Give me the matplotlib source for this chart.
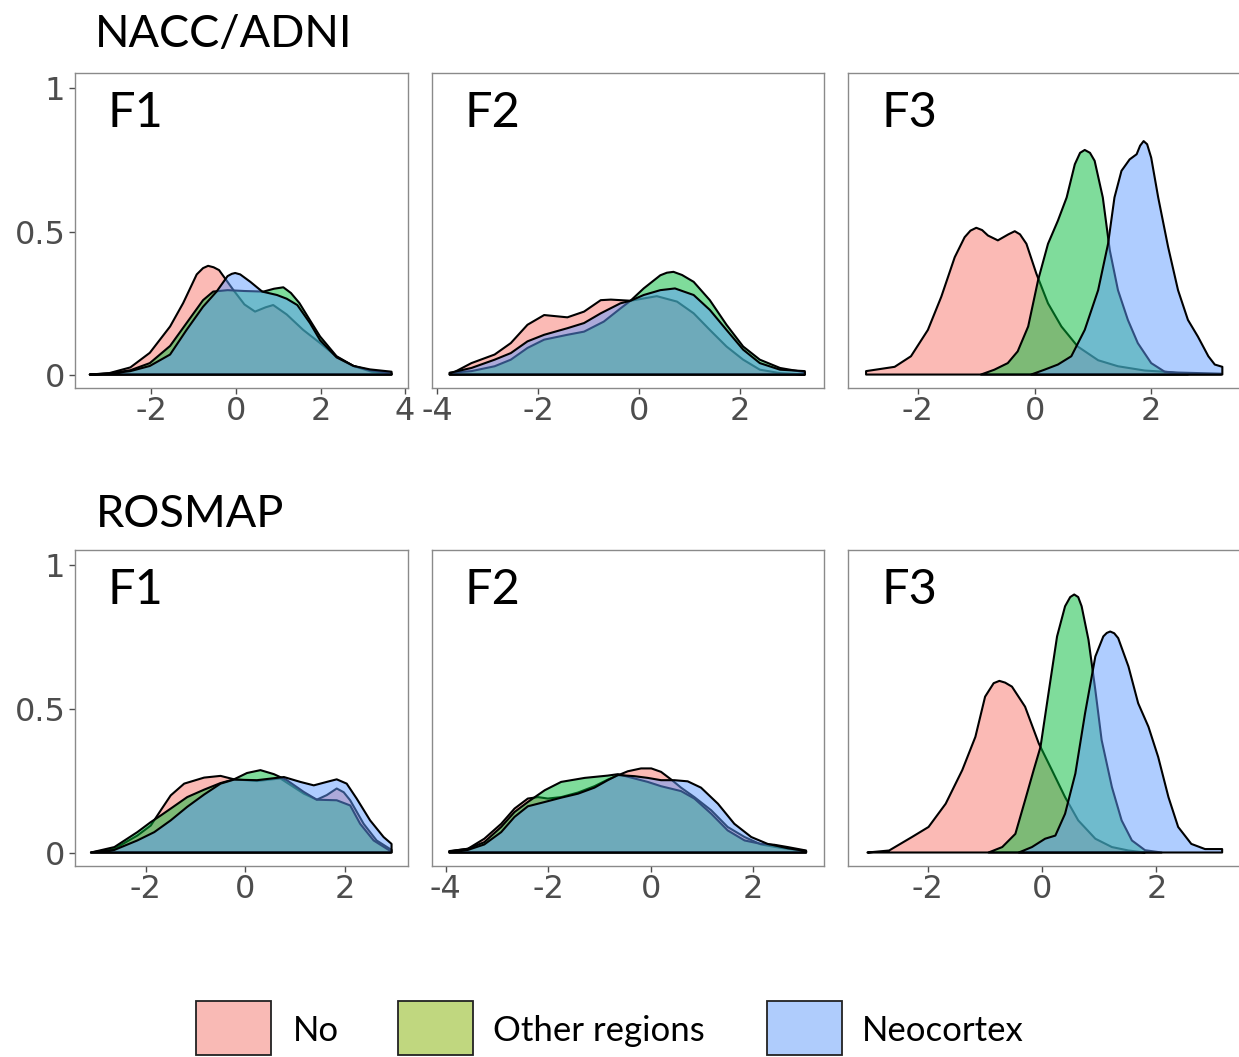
import matplotlib
matplotlib.use("Agg")
import matplotlib.pyplot as plt
from matplotlib.patches import Rectangle

plt.rcParams["axes.unicode_minus"] = False

# ===============================
# DATA (density curves)
# ===============================
groups = ["No", "Other regions", "Neocortex"]
fill_colors = ["#F8766D", "#00BA38", "#619CFF"]
legend_colors = ["#F9BAB5", "#C0D77F", "#AFCCFC"]

# NACC/ADNI - F1
nacc_f1_no_x = [-3.46, -3.0, -2.5, -2.04, -1.56, -1.25, -0.93, -0.78, -0.66, -0.53, -0.4, -0.06, 0.2, 0.45, 0.7, 0.88, 1.2, 1.59, 1.99, 2.4, 2.78, 3.2, 3.68]
nacc_f1_no_y = [0.0, 0.005, 0.025, 0.076, 0.168, 0.25, 0.35, 0.372, 0.38, 0.375, 0.365, 0.295, 0.245, 0.22, 0.235, 0.243, 0.21, 0.156, 0.11, 0.06, 0.03, 0.01, 0.002]
nacc_f1_oth_x = [-3.46, -3.0, -2.5, -2.04, -1.56, -1.17, -0.78, -0.54, -0.2, 0.2, 0.65, 0.9, 1.12, 1.3, 1.5, 1.75, 1.99, 2.38, 2.78, 3.17, 3.68]
nacc_f1_oth_y = [0.0, 0.004, 0.015, 0.04, 0.1, 0.18, 0.26, 0.29, 0.295, 0.292, 0.29, 0.3, 0.305, 0.285, 0.25, 0.19, 0.133, 0.064, 0.03, 0.015, 0.005]
nacc_f1_neo_x = [-3.46, -3.0, -2.5, -2.04, -1.56, -1.17, -0.78, -0.46, -0.2, -0.1, -0.02, 0.1, 0.34, 0.62, 0.97, 1.2, 1.45, 1.75, 1.99, 2.38, 2.78, 3.17, 3.68]
nacc_f1_neo_y = [0.0, 0.003, 0.012, 0.03, 0.07, 0.156, 0.237, 0.29, 0.344, 0.352, 0.355, 0.35, 0.324, 0.29, 0.278, 0.265, 0.243, 0.18, 0.12, 0.06, 0.03, 0.018, 0.01]

# NACC/ADNI - F2
nacc_f2_no_x = [-3.75, -3.32, -2.86, -2.54, -2.21, -1.88, -1.42, -1.09, -0.76, -0.56, -0.17, 0.35, 0.75, 1.08, 1.4, 1.73, 2.06, 2.39, 2.79, 3.28]
nacc_f2_no_y = [0.0, 0.04, 0.07, 0.11, 0.174, 0.208, 0.2, 0.22, 0.26, 0.262, 0.258, 0.274, 0.255, 0.214, 0.156, 0.098, 0.052, 0.017, 0.005, 0.0]
nacc_f2_oth_x = [-3.75, -3.32, -2.86, -2.54, -2.21, -1.88, -1.42, -1.09, -0.70, -0.37, -0.17, 0.09, 0.42, 0.55, 0.68, 0.85, 1.08, 1.4, 1.73, 2.06, 2.39, 2.79, 3.28]
nacc_f2_oth_y = [0.006, 0.012, 0.029, 0.052, 0.093, 0.122, 0.139, 0.15, 0.185, 0.231, 0.258, 0.301, 0.347, 0.356, 0.359, 0.348, 0.324, 0.26, 0.174, 0.098, 0.052, 0.023, 0.008]
nacc_f2_neo_x = [-3.75, -3.32, -2.86, -2.54, -2.21, -1.88, -1.42, -1.09, -0.76, -0.37, -0.17, 0.09, 0.42, 0.71, 1.08, 1.4, 1.73, 2.06, 2.39, 2.79, 3.28]
nacc_f2_neo_y = [0.006, 0.023, 0.052, 0.075, 0.116, 0.139, 0.162, 0.18, 0.214, 0.249, 0.258, 0.278, 0.295, 0.301, 0.278, 0.226, 0.156, 0.087, 0.04, 0.017, 0.012]

# NACC/ADNI - F3
nacc_f3_no_x = [-2.89, -2.40, -2.12, -1.83, -1.60, -1.37, -1.20, -1.1, -1.0, -0.9, -0.80, -0.63, -0.45, -0.34, -0.25, -0.14, 0.03, 0.23, 0.46, 0.74, 1.09, 1.43, 1.89, 2.46, 3.2]
nacc_f3_no_y = [0.012, 0.027, 0.064, 0.156, 0.272, 0.41, 0.48, 0.503, 0.513, 0.505, 0.486, 0.469, 0.49, 0.501, 0.49, 0.457, 0.353, 0.249, 0.168, 0.098, 0.05, 0.029, 0.014, 0.007, 0.003]
nacc_f3_oth_x = [-0.92, -0.69, -0.46, -0.29, -0.11, 0.06, 0.23, 0.40, 0.55, 0.69, 0.78, 0.86, 0.95, 1.03, 1.17, 1.29, 1.43, 1.60, 1.77, 2.0, 2.23, 2.63]
nacc_f3_oth_y = [0.0, 0.017, 0.04, 0.081, 0.168, 0.33, 0.457, 0.538, 0.619, 0.735, 0.775, 0.785, 0.775, 0.747, 0.619, 0.434, 0.295, 0.191, 0.11, 0.04, 0.01, 0.0]
nacc_f3_neo_x = [-0.06, 0.17, 0.40, 0.63, 0.86, 1.09, 1.26, 1.37, 1.49, 1.63, 1.75, 1.81, 1.87, 1.93, 2.0, 2.12, 2.29, 2.46, 2.63, 2.80, 2.98, 3.09, 3.22]
nacc_f3_neo_y = [0.0, 0.017, 0.035, 0.064, 0.156, 0.295, 0.457, 0.619, 0.712, 0.752, 0.77, 0.8, 0.816, 0.805, 0.758, 0.619, 0.446, 0.295, 0.191, 0.133, 0.064, 0.035, 0.027]

# ROSMAP - F1
rosmap_f1_no_x = [-3.1, -2.63, -2.17, -1.9, -1.7, -1.5, -1.23, -0.83, -0.5, -0.23, 0.23, 0.7, 1.17, 1.43, 1.63, 1.83, 1.97, 2.1, 2.37, 2.63, 2.93]
rosmap_f1_no_y = [0.0, 0.013, 0.059, 0.094, 0.147, 0.199, 0.24, 0.261, 0.267, 0.255, 0.249, 0.258, 0.205, 0.184, 0.2, 0.223, 0.21, 0.182, 0.1, 0.042, 0.009]
rosmap_f1_oth_x = [-3.1, -2.63, -2.17, -1.9, -1.7, -1.5, -1.17, -0.83, -0.5, -0.23, 0.03, 0.3, 0.57, 0.83, 1.17, 1.43, 1.83, 2.1, 2.3, 2.57, 2.9]
rosmap_f1_oth_y = [0.0, 0.019, 0.071, 0.106, 0.129, 0.153, 0.193, 0.219, 0.242, 0.255, 0.277, 0.287, 0.273, 0.252, 0.211, 0.184, 0.182, 0.164, 0.1, 0.042, 0.006]
rosmap_f1_neo_x = [-3.1, -2.63, -2.17, -1.83, -1.5, -1.17, -0.83, -0.5, -0.23, 0.23, 0.77, 1.1, 1.37, 1.63, 1.83, 2.03, 2.23, 2.5, 2.77, 2.93]
rosmap_f1_neo_y = [0.0, 0.009, 0.042, 0.071, 0.112, 0.159, 0.202, 0.24, 0.254, 0.252, 0.263, 0.246, 0.234, 0.246, 0.255, 0.24, 0.188, 0.112, 0.054, 0.03]

# ROSMAP - F2
rosmap_f2_no_x = [-3.93, -3.57, -3.25, -2.92, -2.66, -2.4, -2.2, -2.01, -1.75, -1.42, -1.1, -0.84, -0.64, -0.45, -0.19, 0.01, 0.2, 0.4, 0.59, 0.85, 1.18, 1.5, 1.83, 2.15, 2.54, 3.03]
rosmap_f2_no_y = [0.005, 0.013, 0.048, 0.1, 0.153, 0.188, 0.193, 0.188, 0.193, 0.209, 0.231, 0.254, 0.269, 0.283, 0.293, 0.293, 0.281, 0.254, 0.226, 0.193, 0.147, 0.089, 0.054, 0.028, 0.016, 0.005]
rosmap_f2_oth_x = [-3.93, -3.57, -3.25, -2.92, -2.66, -2.4, -2.07, -1.75, -1.29, -0.84, -0.64, -0.32, -0.06, 0.2, 0.59, 0.85, 1.18, 1.5, 1.83, 2.15, 2.41, 2.67, 3.03]
rosmap_f2_oth_y = [0.004, 0.013, 0.036, 0.089, 0.141, 0.176, 0.217, 0.246, 0.26, 0.268, 0.273, 0.258, 0.246, 0.231, 0.214, 0.188, 0.135, 0.077, 0.042, 0.03, 0.027, 0.019, 0.007]
rosmap_f2_neo_x = [-3.93, -3.57, -3.25, -2.92, -2.66, -2.4, -2.07, -1.75, -1.42, -1.1, -0.84, -0.64, -0.32, -0.06, 0.2, 0.46, 0.72, 0.98, 1.31, 1.63, 1.96, 2.28, 2.67, 3.03]
rosmap_f2_neo_y = [0.004, 0.009, 0.028, 0.071, 0.124, 0.161, 0.176, 0.191, 0.205, 0.226, 0.252, 0.27, 0.266, 0.26, 0.252, 0.252, 0.248, 0.226, 0.17, 0.1, 0.054, 0.03, 0.015, 0.005]

# ROSMAP - F3
rosmap_f3_no_x = [-3.06, -2.68, -2.28, -1.99, -1.69, -1.40, -1.17, -1.0, -0.85, -0.75, -0.65, -0.53, -0.30, -0.06, 0.17, 0.40, 0.63, 0.93, 1.22, 1.51, 1.80]
rosmap_f3_no_y = [0.0, 0.007, 0.054, 0.089, 0.17, 0.287, 0.403, 0.543, 0.59, 0.598, 0.592, 0.578, 0.508, 0.38, 0.287, 0.193, 0.112, 0.048, 0.019, 0.007, 0.0]
rosmap_f3_oth_x = [-0.94, -0.70, -0.47, -0.30, -0.15, -0.03, 0.11, 0.26, 0.40, 0.49, 0.56, 0.63, 0.69, 0.81, 0.93, 1.04, 1.22, 1.39, 1.57, 1.80, 2.09]
rosmap_f3_oth_y = [0.0, 0.019, 0.065, 0.182, 0.287, 0.368, 0.555, 0.753, 0.858, 0.89, 0.899, 0.89, 0.858, 0.741, 0.566, 0.392, 0.228, 0.112, 0.042, 0.008, 0.0]
rosmap_f3_neo_x = [-0.41, -0.18, 0.05, 0.23, 0.40, 0.58, 0.75, 0.93, 1.07, 1.13, 1.19, 1.26, 1.33, 1.51, 1.68, 1.86, 2.03, 2.21, 2.38, 2.61, 2.85, 3.15]
rosmap_f3_neo_y = [0.0, 0.019, 0.048, 0.059, 0.135, 0.275, 0.485, 0.683, 0.753, 0.765, 0.77, 0.764, 0.747, 0.648, 0.52, 0.438, 0.333, 0.193, 0.089, 0.03, 0.012, 0.012]

panels = [
    ("F1", [(nacc_f1_no_x, nacc_f1_no_y), (nacc_f1_oth_x, nacc_f1_oth_y), (nacc_f1_neo_x, nacc_f1_neo_y)]),
    ("F2", [(nacc_f2_no_x, nacc_f2_no_y), (nacc_f2_oth_x, nacc_f2_oth_y), (nacc_f2_neo_x, nacc_f2_neo_y)]),
    ("F3", [(nacc_f3_no_x, nacc_f3_no_y), (nacc_f3_oth_x, nacc_f3_oth_y), (nacc_f3_neo_x, nacc_f3_neo_y)]),
    ("F1", [(rosmap_f1_no_x, rosmap_f1_no_y), (rosmap_f1_oth_x, rosmap_f1_oth_y), (rosmap_f1_neo_x, rosmap_f1_neo_y)]),
    ("F2", [(rosmap_f2_no_x, rosmap_f2_no_y), (rosmap_f2_oth_x, rosmap_f2_oth_y), (rosmap_f2_neo_x, rosmap_f2_neo_y)]),
    ("F3", [(rosmap_f3_no_x, rosmap_f3_no_y), (rosmap_f3_oth_x, rosmap_f3_oth_y), (rosmap_f3_neo_x, rosmap_f3_neo_y)]),
]
x_limits = [(-3.81, 4.07), (-4.1, 3.66), (-3.2, 3.54), (-3.42, 3.26), (-4.27, 3.38), (-3.4, 3.48)]
x_ticks = [[-2, 0, 2, 4], [-4, -2, 0, 2], [-2, 0, 2], [-2, 0, 2], [-4, -2, 0, 2], [-2, 0, 2]]
row_titles = ["NACC/ADNI", "ROSMAP"]

# ===============================
# LAYOUT (pixel boxes)
# ===============================
W, H = 1239, 1057
rows_px = [(73, 388), (550, 866)]
cols_px = [(75, 408), (432, 824), (848, 1241)]
title_font = ["Lato", "DejaVu Sans"]
tick_grey = "#4d4d4d"

fig = plt.figure(figsize=(W / 100, H / 100), dpi=100)

for i, (label, curves) in enumerate(panels):
    r, c = divmod(i, 3)
    t, b = rows_px[r]
    left, right = cols_px[c]
    ax = fig.add_axes([left / W, 1 - b / H, (right - left) / W, (b - t) / H])

    # fill + outline per group, drawn in order so later fills tint earlier outlines
    for (xs, ys), col in zip(curves, fill_colors):
        px = [xs[0]] + list(xs) + [xs[-1]]
        py = [0.0] + list(ys) + [0.0]
        ax.fill(px, py, facecolor=matplotlib.colors.to_rgba(col, 0.5),
                edgecolor="black", linewidth=1.5, joinstyle="round")

    ax.set_xlim(*x_limits[i])
    ax.set_ylim(-0.047, 1.054)
    ax.set_xticks(x_ticks[i])
    ax.set_xticklabels([str(v) for v in x_ticks[i]])
    ax.set_yticks([0, 0.5, 1])
    if c == 0:
        ax.set_yticklabels(["0", "0.5", "1"])
        ax.tick_params(axis="y", length=4, width=1, color=tick_grey, pad=3,
                       labelsize=23, labelcolor=tick_grey)
    else:
        ax.tick_params(axis="y", left=False, labelleft=False)
    ax.tick_params(axis="x", length=4, width=1, color=tick_grey, pad=2,
                   labelsize=23, labelcolor=tick_grey)
    for s in ax.spines.values():
        s.set_color("#8a8a8a")
        s.set_linewidth(1.0)

    ax.text(33 / (right - left), 1 - 54 / (b - t), label, transform=ax.transAxes,
            fontsize=35, family=title_font, ha="left", va="baseline")

# row titles
fig.text(95 / W, 1 - 47 / H, row_titles[0], fontsize=32.5, family=title_font,
         ha="left", va="baseline")
fig.text(96 / W, 1 - 527 / H, row_titles[1], fontsize=32.5, family=title_font,
         ha="left", va="baseline")

# legend
box_x = [196, 398, 767]
text_x = [293, 493, 862]
for bx, tx, name, col in zip(box_x, text_x, groups, legend_colors):
    fig.patches.append(Rectangle((bx / W, 1 - 1055 / H), 75 / W, 54 / H,
                                 transform=fig.transFigure, facecolor=col,
                                 edgecolor="#222222", linewidth=1.3))
    fig.text(tx / W, 1 - 1028 / H, name, fontsize=25, family=title_font,
             ha="left", va="center_baseline")

fig.savefig("out.png", dpi=100)
